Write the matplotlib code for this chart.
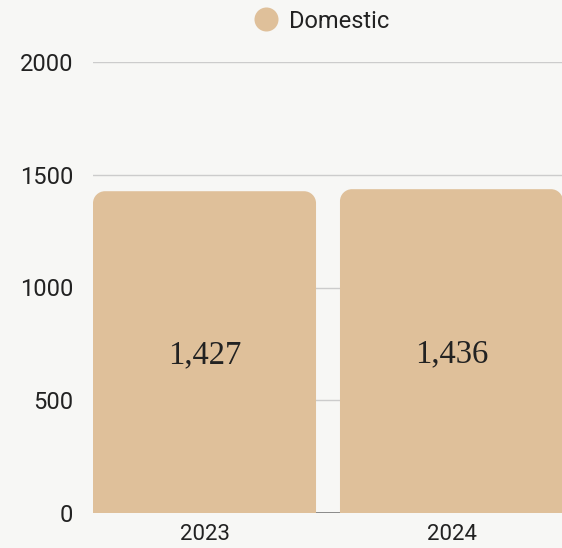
import matplotlib.pyplot as plt
from matplotlib.path import Path
from matplotlib.patches import PathPatch
from matplotlib.lines import Line2D

years = ["2023", "2024"]
domestic = [1427, 1436]
y_ticks = [0, 500, 1000, 1500, 2000]

bar_color = "#dfc09a"
bg = "#f7f7f5"

fig = plt.figure(figsize=(5.62, 5.48), dpi=100, facecolor=bg)
ax = fig.add_axes([93 / 562, 35 / 548, 470 / 562, 451 / 548], facecolor=bg)

width = 0.903
ax.set_xlim(-width / 2, 1 + width / 2)
ax.set_ylim(0, 2000)

# rounded top corners: radius in pixels converted to data units on each axis
r_px = 12
rx = r_px / 247
ry = r_px / (451 / 2000)
k = 0.5523

for i, v in enumerate(domestic):
    x0, x1 = i - width / 2, i + width / 2
    verts = [
        (x0, 0), (x0, v - ry),
        (x0, v - ry + k * ry), (x0 + rx - k * rx, v), (x0 + rx, v),
        (x1 - rx, v),
        (x1 - rx + k * rx, v), (x1, v - ry + k * ry), (x1, v - ry),
        (x1, 0), (x0, 0),
    ]
    codes = [Path.MOVETO, Path.LINETO,
             Path.CURVE4, Path.CURVE4, Path.CURVE4,
             Path.LINETO,
             Path.CURVE4, Path.CURVE4, Path.CURVE4,
             Path.LINETO, Path.CLOSEPOLY]
    ax.add_patch(PathPatch(Path(verts, codes), facecolor=bar_color,
                           edgecolor="none", zorder=2))
    ax.annotate(f"{v:,}", (i, v / 2), xytext=(0, -7.8), textcoords="offset points",
                ha="center", va="baseline", fontsize=23.5,
                family="Liberation Serif", color="#222222", zorder=3)

ax.set_yticks(y_ticks)
ax.set_xticks([0, 1])
ax.set_xticklabels(years)
ax.grid(axis="y", color="#cccccc", linewidth=1, zorder=0)
ax.axhline(0, color="#666666", linewidth=1.2, zorder=1)
for s in ax.spines.values():
    s.set_visible(False)
ax.tick_params(length=0, colors="#222222")
ax.tick_params(axis="y", pad=14.4, labelsize=17)
ax.tick_params(axis="x", pad=8, labelsize=16)
for lab in ax.get_xticklabels() + ax.get_yticklabels():
    lab.set_family("Roboto")

handle = Line2D([], [], marker="o", linestyle="none", markersize=17.3,
                markerfacecolor=bar_color, markeredgecolor="none")
leg = fig.legend([handle], ["Domestic"], loc="center",
                 bbox_to_anchor=(321.8 / 562, 1 - 21 / 548),
                 frameon=False, prop={"family": "Roboto", "size": 17},
                 handlelength=1.0, handletextpad=0.45, borderaxespad=0)
for t in leg.get_texts():
    t.set_color("#222222")

fig.savefig("out.png", dpi=100, facecolor=bg)
